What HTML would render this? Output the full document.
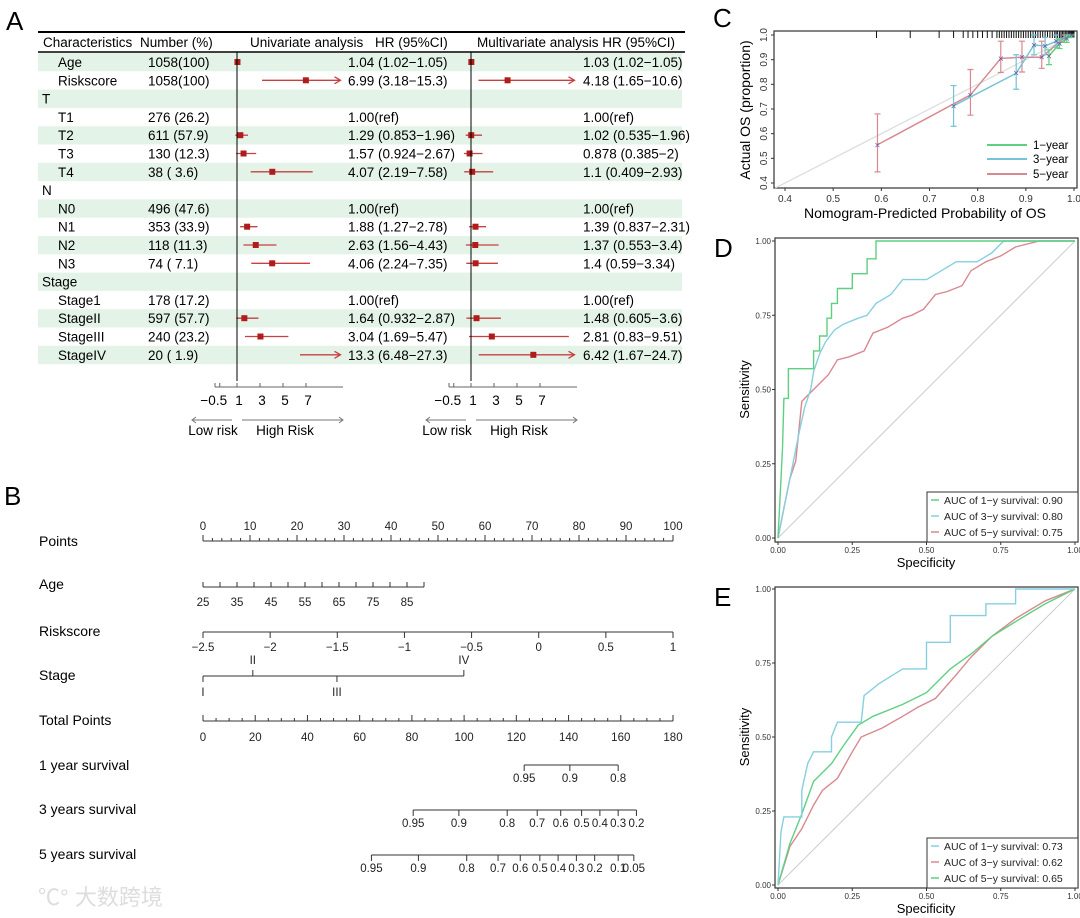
<!DOCTYPE html>
<html><head><meta charset="utf-8"><style>
html,body{margin:0;padding:0;background:#fff}
svg{display:block;font-family:"Liberation Sans","Noto Sans CJK SC",sans-serif}
</style></head><body>
<svg id="fig" width="1080" height="918" viewBox="0 0 1080 918" xmlns="http://www.w3.org/2000/svg">
<g id="gA"></g>
<g id="gB"></g>
<g id="gC"></g>
<g id="gD"></g>
<g id="gE"></g>
<text x="38" y="905" font-size="22" fill="#ddd">℃° 大数跨境</text>
</svg>
<script>
// ---------- Panel A data ----------
const rowLabels=["Age","Riskscore","T","T1","T2","T3","T4","N","N0","N1","N2","N3","Stage","Stage1","StageII","StageIII","StageIV"];
const rowIsHeader=[0,0,1,0,0,0,0,1,0,0,0,0,1,0,0,0,0];
const rowNumbers=["1058(100)","1058(100)","","276 (26.2)","611 (57.9)","130 (12.3)"," 38 ( 3.6)","","496 (47.6)","353 (33.9)","118 (11.3)"," 74 ( 7.1)","","178 (17.2)","597 (57.7)","240 (23.2)"," 20 ( 1.9)"];
const uniHR=[1.04,6.99,null,null,1.29,1.57,4.07,null,null,1.88,2.63,4.06,null,null,1.64,3.04,13.3];
const uniLo=[1.02,3.18,null,null,0.853,0.924,2.19,null,null,1.27,1.56,2.24,null,null,0.932,1.69,6.48];
const uniHi=[1.05,15.3,null,null,1.96,2.67,7.58,null,null,2.78,4.43,7.35,null,null,2.87,5.47,27.3];
const uniText=["1.04 (1.02−1.05)","6.99 (3.18−15.3)","","1.00(ref)","1.29 (0.853−1.96)","1.57 (0.924−2.67)","4.07 (2.19−7.58)","","1.00(ref)","1.88 (1.27−2.78)","2.63 (1.56−4.43)","4.06 (2.24−7.35)","","1.00(ref)","1.64 (0.932−2.87)","3.04 (1.69−5.47)","13.3 (6.48−27.3)"];
const mulHR=[1.03,4.18,null,null,1.02,0.878,1.1,null,null,1.39,1.37,1.4,null,null,1.48,2.81,6.42];
const mulLo=[1.02,1.65,null,null,0.535,0.385,0.409,null,null,0.837,0.553,0.59,null,null,0.605,0.83,1.67];
const mulHi=[1.05,10.6,null,null,1.96,2,2.93,null,null,2.31,3.4,3.34,null,null,3.6,9.51,24.7];
const mulText=["1.03 (1.02−1.05)","4.18 (1.65−10.6)","","1.00(ref)","1.02 (0.535−1.96)","0.878 (0.385−2)","1.1 (0.409−2.93)","","1.00(ref)","1.39 (0.837−2.31)","1.37 (0.553−3.4)","1.4 (0.59−3.34)","","1.00(ref)","1.48 (0.605−3.6)","2.81 (0.83−9.51)","6.42 (1.67−24.7)"];
const forestTicks=[-0.5,1,3,5,7];

// ---------- Panel B data ----------
const ageVals=[25,30,35,40,45,50,55,60,65,70,75,80,85,90];
const ageLabels=[25,35,45,55,65,75,85];
const riskVals=[-2.5,-2,-1.5,-1,-0.5,0,0.5,1];
const stageNames=["I","II","III","IV"];
const stagePoints=[0,10.6,28.5,55.5];
const surv1Vals=[0.95,0.9,0.8];
const surv1TP=[123,140.5,159];
const surv3Vals=[0.95,0.9,0.8,0.7,0.6,0.5,0.4,0.3,0.2];
const surv3TP=[80.5,98,116.5,128,137,145,152,159,166];
const surv5Vals=[0.95,0.9,0.8,0.7,0.6,0.5,0.4,0.3,0.2,0.1,0.05];
const surv5TP=[64.5,82.5,101,113,121.5,129,136,143,150,159,165];

// ---------- Panel C data ----------
const cal1Pred=[0.948,0.97,0.985,0.995];
const cal1Obs=[0.915,0.965,0.985,1.0];
const cal1Lo=[0.88,0.945,0.97,0.99];
const cal1Hi=[0.94,0.985,1.0,1.0];
const cal3Pred=[0.75,0.88,0.917,0.94,0.963,0.99];
const cal3Obs=[0.713,0.845,0.96,0.955,0.975,1.0];
const cal3Lo=[0.63,0.78,0.92,0.92,0.95,0.99];
const cal3Hi=[0.795,0.92,1.0,0.99,1.0,1.0];
const cal5Pred=[0.592,0.785,0.848,0.892,0.933,0.98];
const cal5Obs=[0.555,0.757,0.905,0.91,0.91,0.99];
const cal5Lo=[0.445,0.675,0.848,0.85,0.865,0.97];
const cal5Hi=[0.68,0.86,0.975,0.975,0.975,1.0];
const rugVals=[0.59,0.66,0.72,0.75,0.77,0.78,0.79,0.8,0.81,0.82,0.83,0.84,0.845,0.85,0.855,0.86,0.865,0.87,0.875,0.88,0.885,0.89,0.895,0.9,0.905,0.91,0.915,0.92,0.925,0.93,0.935,0.94,0.945,0.95,0.955,0.96,0.963,0.966,0.97,0.973,0.976,0.979,0.982,0.985,0.988,0.99,0.992,0.994,0.996,0.998,1.0];

// ---------- Panel D / E data ----------
const d1x=[0,0.005,0.01,0.015,0.02,0.035,0.035,0.12,0.12,0.14,0.14,0.165,0.165,0.18,0.18,0.2,0.2,0.25,0.25,0.3,0.3,0.33,0.33,1];
const d1y=[0,0.1,0.2,0.3,0.47,0.47,0.57,0.57,0.63,0.63,0.68,0.68,0.74,0.74,0.79,0.79,0.84,0.84,0.89,0.89,0.94,0.94,1,1];
const d3x=[0,0.02,0.05,0.07,0.09,0.11,0.12,0.14,0.16,0.19,0.22,0.27,0.3,0.33,0.38,0.42,0.5,0.55,0.6,0.67,0.72,0.76,1];
const d3y=[0,0.1,0.25,0.35,0.44,0.5,0.56,0.62,0.66,0.7,0.72,0.74,0.75,0.79,0.82,0.87,0.87,0.9,0.93,0.93,0.96,1,1];
const d5x=[0,0.02,0.04,0.06,0.08,0.1,0.13,0.17,0.2,0.24,0.29,0.32,0.37,0.42,0.45,0.49,0.53,0.57,0.62,0.65,0.7,0.75,0.8,0.88,1];
const d5y=[0,0.1,0.2,0.26,0.46,0.48,0.51,0.55,0.6,0.61,0.63,0.69,0.71,0.74,0.75,0.77,0.82,0.83,0.85,0.9,0.93,0.95,0.98,1,1];
const e1x=[0,0.01,0.02,0.08,0.08,0.1,0.12,0.18,0.18,0.2,0.28,0.29,0.34,0.42,0.5,0.5,0.58,0.58,0.7,0.7,0.8,0.8,1];
const e1y=[0,0.18,0.23,0.23,0.32,0.41,0.45,0.45,0.5,0.55,0.55,0.64,0.68,0.73,0.73,0.82,0.82,0.91,0.91,0.95,0.95,1,1];
const e3x=[0,0.04,0.08,0.12,0.15,0.2,0.25,0.28,0.35,0.42,0.47,0.53,0.6,0.65,0.72,0.8,0.9,1];
const e3y=[0,0.13,0.19,0.27,0.32,0.36,0.45,0.5,0.53,0.57,0.6,0.63,0.71,0.77,0.84,0.9,0.96,1];
const e5x=[0,0.04,0.08,0.12,0.18,0.22,0.27,0.32,0.42,0.5,0.58,0.65,0.72,0.8,0.9,1];
const e5y=[0,0.14,0.24,0.35,0.41,0.47,0.54,0.57,0.61,0.65,0.73,0.78,0.84,0.89,0.95,1];
const rocTicks=[0,0.25,0.5,0.75,1];
const rocTickLabels=["0.00","0.25","0.50","0.75","1.00"];

const NS="http://www.w3.org/2000/svg";
function mk(parent,tag,attrs,txt){const e=document.createElementNS(NS,tag);for(const k in attrs)e.setAttribute(k,attrs[k]);if(txt!==undefined)e.textContent=txt;parent.appendChild(e);return e;}
const RED="#b01c1c", LRED="#c84040";

// ======== PANEL A ========
(function(){
const g=document.getElementById('gA');
let t=mk(g,'text',{x:6,y:30,'font-size':26});t.textContent="A";


const rowY=i=>62+i*18.3;
rowLabels.forEach((lab,i)=>{
  if(i%2===0){const r=mk(g,'rect',{x:38,y:rowY(i)-9,width:644,height:18.3,fill:"#e4f3e7"});
    
    }
});
let l=mk(g,'line',{x1:38,x2:685,y1:32,y2:32,stroke:"#000","stroke-width":2});


l=mk(g,'line',{x1:38,x2:685,y1:52,y2:52,stroke:"#000","stroke-width":1.5});


const hdr=[[43,"Characteristics"],[140,"Number (%)"],[250,"Univariate analysis"],[375,"HR (95%CI)"],[477,"Multivariate analysis HR (95%CI)"]];
hdr.forEach(h=>{const e=mk(g,'text',{x:h[0],y:47,'font-size':13.5},h[1]);
  
  });
const u0=237,m0=471,sc=11.5,clip=10;
rowLabels.forEach((lab,i)=>{
  const y=rowY(i);
  const e=mk(g,'text',{x:rowIsHeader[i]?42:58,y:y+5,'font-size':13.5},lab);
  
  
  if(rowNumbers[i]){const n=mk(g,'text',{x:148,y:y+5,'font-size':13.5,'xml:space':'preserve'},rowNumbers[i]);
    
    }
  if(uniText[i]){const n=mk(g,'text',{x:348,y:y+5,'font-size':13.5},uniText[i]);
    
    }
  if(mulText[i]){const n=mk(g,'text',{x:583,y:y+5,'font-size':13.5},mulText[i]);
    
    }
  [[uniHR,uniLo,uniHi,u0,'uni'],[mulHR,mulLo,mulHi,m0,'multi']].forEach(s=>{
    const hr=s[0][i]; if(hr==null)return;
    const X=v=>s[3]+(Math.min(v,clip)-1)*sc;
    const x1=X(s[1][i]),x2=X(s[2][i]);
    const ln=mk(g,'line',{x1:x1,x2:x2,y1:y,y2:y,stroke:LRED,"stroke-width":1.3});
    
    
    if(s[2][i]>clip){const a=mk(g,'path',{d:`M${x2-6},${y-3.5}L${x2},${y}L${x2-6},${y+3.5}`,fill:"none",stroke:LRED,"stroke-width":1.3});
      
      }
    if(hr<=clip){const p=mk(g,'rect',{x:X(hr)-3,y:y-3,width:6,height:6,fill:RED});
      
      }
  });
});
[[u0,'uni'],[m0,'multi']].forEach(s=>{
  const o=s[0];
  const v=mk(g,'line',{x1:o,x2:o,y1:52,y2:381,stroke:"#000","stroke-width":1});
  
  
  const ax=mk(g,'line',{x1:o-22,x2:o+106,y1:387,y2:387,stroke:"#666","stroke-width":1});
  
  
  mk(g,'line',{x1:o-22,x2:o-22,y1:387,y2:383,stroke:"#666"});
  forestTicks.forEach(tv=>{const x=o+(tv-1)*sc;
    mk(g,'line',{x1:x,x2:x,y1:387,y2:383,stroke:"#666"});
    const lx=tv<0?x-6:x+2;
    const tl=mk(g,'text',{x:lx,y:405,'font-size':13.5,'text-anchor':'middle'},String(tv).replace('-','−'));
    
    });
  const a1=mk(g,'path',{d:`M${o-5},420L${o-45},420M${o-41},417L${o-45},420L${o-41},423`,fill:"none",stroke:"#777"});
  
  
  const a2=mk(g,'path',{d:`M${o+5},420L${o+106},420M${o+102},417L${o+106},420L${o+102},423`,fill:"none",stroke:"#777"});
  
  
  const t1=mk(g,'text',{x:o-24,y:435,'font-size':13.5,'text-anchor':'middle'},"Low risk");
  
  
  const t2=mk(g,'text',{x:o+48,y:435,'font-size':13.5,'text-anchor':'middle'},"High Risk");
  
  
});
})();

// ======== PANEL B ========
(function(){
const g=document.getElementById('gB');
let t=mk(g,'text',{x:4,y:505,'font-size':26},"B");


const P=p=>203+p*4.7;
const TP=p=>203+p*470/180;
function label(txt,y){const e=mk(g,'text',{x:39,y:y,'font-size':14},txt);
  
  }
function axis(x1,x2,y,name){const e=mk(g,'line',{x1:x1,x2:x2,y1:y,y2:y,stroke:"#333"});
  
  }
function tick(x,y,len,dir){mk(g,'line',{x1:x,x2:x,y1:y,y2:y+dir*len,stroke:"#333"});}
function tl(x,y,s){const e=mk(g,'text',{x:x,y:y,'font-size':11.5,'text-anchor':'middle','fill':'#222'},s);
  
  }
label("Points",546);axis(P(0),P(100),541,'points-axis');
for(let p=0;p<=100;p+=2){tick(P(p),541,p%10===0?6:3,-1);}
for(let p=0;p<=100;p+=10)tl(P(p),530,String(p));
label("Age",589);
const ageP=a=>(a-25)*(34/10)/4.7;
axis(P(ageP(25)),P(ageP(90)),587,'age-axis');
ageVals.forEach(a=>tick(P(ageP(a)),587,5,-1));
ageLabels.forEach(a=>tl(P(ageP(a)),606,String(a)));
label("Riskscore",636);
const rP=r=>(r+2.5)/3.5*100;
axis(P(0),P(100),632,'riskscore-axis');
riskVals.forEach(r=>{tick(P(rP(r)),632,6,1);tl(P(rP(r)),651,String(r).replace('-','−'));});
label("Stage",680);
axis(P(0),P(stagePoints[3]),676,'stage-axis');
stageNames.forEach((s,i)=>{const x=P(stagePoints[i]);
  if(i%2===1){tick(x,676,6,-1);tl(x,664,s);}else{tick(x,676,6,1);tl(x,696,s);}});
label("Total Points",725);
axis(TP(0),TP(180),721,'total-points-axis');
for(let p=0;p<=180;p+=5)tick(TP(p),721,p%20===0?6:3,-1);
for(let p=0;p<=180;p+=20)tl(TP(p),741,String(p));
[[ "1 year survival",770,765,surv1Vals,surv1TP,'one-year-survival-axis'],
 [ "3 years survival",814,810,surv3Vals,surv3TP,'three-year-survival-axis'],
 [ "5 years survival",859,855,surv5Vals,surv5TP,'five-year-survival-axis']].forEach(r=>{
  label(r[0],r[1]);
  axis(TP(r[4][0]),TP(r[4][r[4].length-1]),r[2],r[5]);
  r[3].forEach((v,i)=>{tick(TP(r[4][i]),r[2],6,1);tl(TP(r[4][i]),r[2]+17,String(v));});
});
})();

// ======== PANEL C ========
(function(){
const g=document.getElementById('gC');
let t=mk(g,'text',{x:713,y:27,'font-size':26},"C");


const X=v=>785+(v-0.4)/0.6*289, Y=v=>183-(v-0.4)/0.6*148;
const box=mk(g,'rect',{x:774,y:31,width:303,height:157,fill:"none",stroke:"#333","stroke-width":1.2});


const dg=mk(g,'line',{x1:X(0.38),y1:Y(0.38),x2:X(1),y2:Y(1),stroke:"#ddd","stroke-width":1.3});


rugVals.forEach(v=>{const r=mk(g,'line',{x1:X(v),x2:X(v),y1:31,y2:38,stroke:"#111","stroke-width":1});
  
  });
[0.4,0.5,0.6,0.7,0.8,0.9,1.0].forEach(v=>{
  mk(g,'line',{x1:X(v),x2:X(v),y1:188,y2:191,stroke:"#333"});
  const a=mk(g,'text',{x:X(v),y:202,'font-size':10,'text-anchor':'middle','fill':'#333'},v.toFixed(1));
  
  
  mk(g,'line',{x1:774,x2:771,y1:Y(v),y2:Y(v),stroke:"#333"});
  const b=mk(g,'text',{x:0,y:0,'font-size':10,'text-anchor':'middle','fill':'#333',transform:`translate(767,${Y(v)}) rotate(-90)`},v.toFixed(1));
  
  
});
const xl=mk(g,'text',{x:925,y:218,'font-size':14,'text-anchor':'middle'},"Nomogram-Predicted Probability of OS");


const yl=mk(g,'text',{x:0,y:0,'font-size':14,'text-anchor':'middle',transform:"translate(750,110) rotate(-90)"},"Actual OS (proportion)");


const series=[[cal5Pred,cal5Obs,cal5Lo,cal5Hi,"#d98890",'five-year'],[cal3Pred,cal3Obs,cal3Lo,cal3Hi,"#74c3d6",'three-year'],[cal1Pred,cal1Obs,cal1Lo,cal1Hi,"#5fcf82",'one-year']];
series.forEach(s=>{
  let d="";s[0].forEach((p,i)=>{d+=(i?"L":"M")+X(p)+","+Y(s[1][i]);});
  const pl=mk(g,'path',{d:d,fill:"none",stroke:s[4],"stroke-width":1.5});
  
  
  s[0].forEach((p,i)=>{const x=X(p);
    const eb=mk(g,'path',{d:`M${x},${Y(s[2][i])}L${x},${Y(s[3][i])}M${x-3},${Y(s[2][i])}L${x+3},${Y(s[2][i])}M${x-3},${Y(s[3][i])}L${x+3},${Y(s[3][i])}`,stroke:s[4],fill:"none","stroke-width":1.2});
    
    
    const pt=mk(g,'text',{x:x,y:Y(s[1][i])+3.5,'font-size':10,'text-anchor':'middle',fill:"#6a5aa8"},"×");
    
    });
});
[["1−year","#5fcf82",145],["3−year","#74c3d6",159],["5−year","#d98890",174]].forEach(e=>{
  const lg=mk(g,'line',{x1:987,x2:1027,y1:e[2],y2:e[2],stroke:e[1],"stroke-width":2});
  
  
  const lt=mk(g,'text',{x:1033,y:e[2]+4,'font-size':11.5},e[0]);
  
  
});
})();

// ======== PANELS D & E ========
function roc(gid,letter,top,bot,boxTop,boxBot,series,legend){
  const g=document.getElementById(gid);
  let t=mk(g,'text',{x:714,y:boxTop+19,'font-size':26},letter);
  
  
  const X=v=>778+v*297, Y=v=>bot-v*(bot-top);
  const dg=mk(g,'line',{x1:X(0),y1:Y(0),x2:X(1),y2:Y(1),stroke:"#ccc","stroke-width":1});
  
  
  series.forEach(s=>{
    let d="";s[0].forEach((x,i)=>{d+=(i?"L":"M")+X(x).toFixed(1)+","+Y(s[1][i]).toFixed(1);});
    const p=mk(g,'path',{d:d,fill:"none",stroke:s[2],"stroke-width":1.4});
    
    
  });
  const box=mk(g,'rect',{x:775,y:boxTop,width:303,height:boxBot-boxTop,fill:"none",stroke:"#333","stroke-width":1.2});
  
  
  rocTicks.forEach((v,i)=>{
    mk(g,'line',{x1:X(v),x2:X(v),y1:boxBot,y2:boxBot+3,stroke:"#333"});
    const a=mk(g,'text',{x:X(v),y:boxBot+11,'font-size':8,'text-anchor':'middle',fill:'#333'},rocTickLabels[i]);
    
    
    mk(g,'line',{x1:775,x2:772,y1:Y(v),y2:Y(v),stroke:"#333"});
    const b=mk(g,'text',{x:771,y:Y(v)+3,'font-size':8,'text-anchor':'end',fill:'#333'},rocTickLabels[i]);
    
    
  });
  const xl=mk(g,'text',{x:926,y:boxBot+25,'font-size':13,'text-anchor':'middle'},"Specificity");
  
  
  const yl=mk(g,'text',{x:0,y:0,'font-size':13,'text-anchor':'middle',transform:`translate(749,${(top+bot)/2}) rotate(-90)`},"Sensitivity");
  
  
  const lb=mk(g,'rect',{x:927,y:boxBot-50,width:151,height:50,fill:"#fff",stroke:"#333","stroke-width":1});
  
  
  legend.forEach((e,i)=>{const y=boxBot-42+i*16;
    const sw=mk(g,'line',{x1:931,x2:939,y1:y,y2:y,stroke:e[1],"stroke-width":1.5});
    
    
    const lt=mk(g,'text',{x:944,y:y+4,'font-size':10.5,fill:'#222'},e[0]);
    
    });
}
const GRN="#5fcf82",BLU="#86cfe0",PNK="#d98890";
roc('gD','D',241,538,238,542,
  [[d5x,d5y,PNK,'roc-5y-line'],[d3x,d3y,BLU,'roc-3y-line'],[d1x,d1y,GRN,'roc-1y-line']],
  [["AUC of 1−y survival: 0.90",GRN],["AUC of 3−y survival: 0.80",BLU],["AUC of 5−y survival: 0.75",PNK]]);
roc('gE','E',589,885,587,888,
  [[e3x,e3y,PNK,'roc-3y-line'],[e5x,e5y,GRN,'roc-5y-line'],[e1x,e1y,BLU,'roc-1y-line']],
  [["AUC of 1−y survival: 0.73",BLU],["AUC of 3−y survival: 0.62",PNK],["AUC of 5−y survival: 0.65",GRN]]);
</script>
</body></html>
